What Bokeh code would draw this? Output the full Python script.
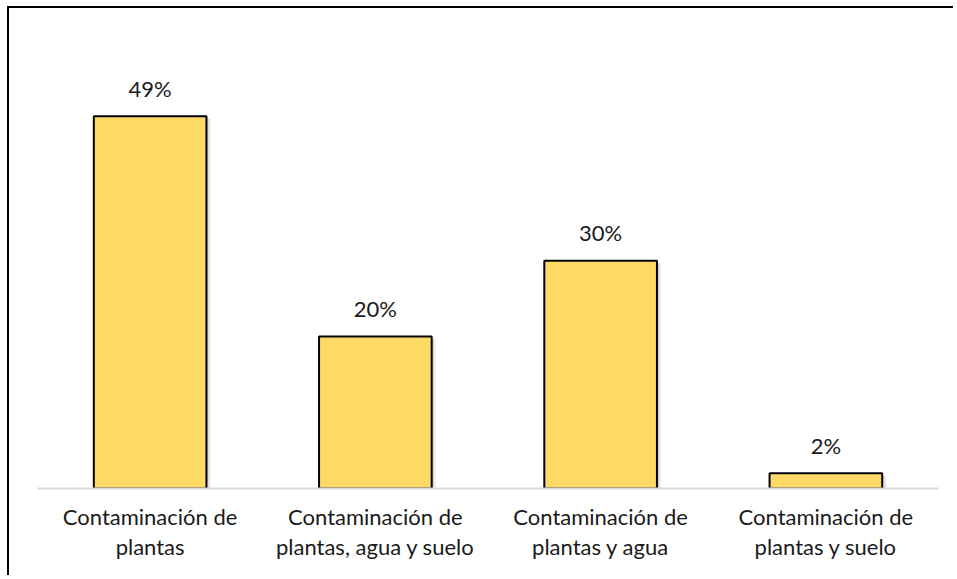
from bokeh.plotting import figure
from bokeh.models import ColumnDataSource, LabelSet, Range1d, FactorRange
from bokeh.core.properties import value
from bokeh.transform import dodge
from bokeh.embed import file_html
from bokeh.resources import INLINE

categories = ["Contaminación de\nplantas",
              "Contaminación de\nplantas, agua y suelo",
              "Contaminación de\nplantas y agua",
              "Contaminación de\nplantas y suelo"]
values = [49, 20, 30, 2]
labels = ["49%", "20%", "30%", "2%"]

FONT = "Lato"
FS = "22px"

src = ColumnDataSource(dict(cat=categories, val=values, lab=labels,
                            shadow_top=[v - 0.35 for v in values]))

p = figure(width=946, height=569, x_range=FactorRange(*categories, range_padding=0),
           y_range=Range1d(0, 60.3), output_backend="svg", toolbar_location=None,
           min_border_left=28, min_border_right=17, min_border_top=22, min_border_bottom=89)
p.styles = {"border-left": "2px solid #000000", "border-top": "2px solid #000000",
            "margin-left": "7px", "margin-top": "6px"}
p.outline_line_color = None
p.background_fill_color = "white"
p.border_fill_color = "white"

# soft shadow
p.vbar(x=dodge("cat", 0.018, range=p.x_range), top="shadow_top", width=0.5, bottom=0,
       source=src, fill_color="#000000", fill_alpha=0.07, line_color=None)
p.vbar(x=dodge("cat", 0.01, range=p.x_range), top="shadow_top", width=0.5, bottom=0,
       source=src, fill_color="#000000", fill_alpha=0.10, line_color=None)

p.vbar(x="cat", top="val", width=0.5, bottom=0, source=src,
       fill_color="#FFD966", line_color="#000000", line_width=2)

lbl = LabelSet(x="cat", y="val", text="lab", source=src, y_offset=28,
               text_align="center", text_baseline="middle",
               text_font=value(FONT), text_font_size=value(FS), text_color="#1a1a1a")
p.add_layout(lbl)

p.yaxis.visible = False
p.xgrid.visible = False
p.ygrid.visible = False
p.xaxis.axis_line_color = "#D9D9D9"
p.xaxis.axis_line_width = 2
p.xaxis.major_tick_line_color = None
p.xaxis.minor_tick_line_color = None
p.xaxis.major_label_standoff = 8
p.xaxis.major_label_text_font = FONT
p.xaxis.major_label_text_font_size = FS
p.xaxis.major_label_text_color = "#1a1a1a"
p.xaxis.major_label_text_line_height = 1.12

open("out.html", "w").write(file_html(p, INLINE))
